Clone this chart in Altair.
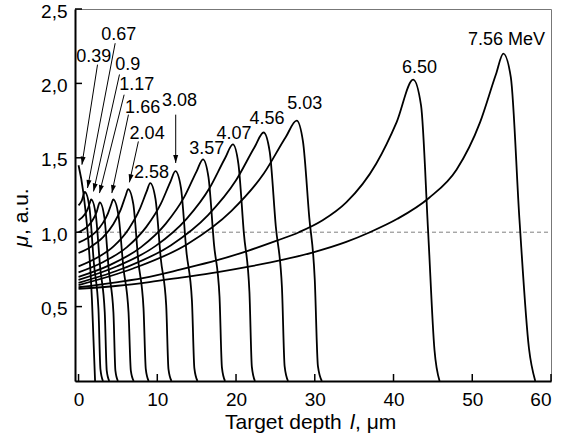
import altair as alt
import pandas as pd

FONT = "Liberation Sans"

# ---- curve data (target depth in um, mu in a.u.) ----
energies = ["0.39", "0.67", "0.9", "1.17", "1.66", "2.04", "2.58", "3.08",
            "3.57", "4.07", "4.56", "5.03", "6.50", "7.56"]

x_039 = [0, 0.6, 1.7, 2.1]
y_039 = [1.45, 1.27, 0.55, 0]
x_067 = [0, 0.4, 0.8, 1.375, 1.95, 2.53, 2.78, 3.1]
y_067 = [1.18, 1.21, 1.27, 1.17, 0.79, 0.48, 0.08, 0]
x_090 = [0, 0.8, 1.2, 1.45, 1.6, 2.18, 2.75, 3.33, 3.58, 3.9]
y_090 = [1.08, 1.12, 1.16, 1.2, 1.22, 1.12, 0.76, 0.46, 0.07, 0]
x_117 = [0, 1.35, 1.89, 2.3, 2.7, 3.28, 3.85, 4.43, 4.68, 5.0]
y_117 = [1.0, 1.05, 1.09, 1.136, 1.2, 1.1, 0.74, 0.46, 0.07, 0]
x_166 = [0, 1.1, 2.2, 3.08, 3.74, 4.18, 4.4, 5.05, 5.7, 6.35, 6.64, 7.0]
y_166 = [0.93, 0.959, 1.003, 1.061, 1.127, 1.191, 1.22, 1.12, 0.76, 0.46, 0.07, 0]
x_204 = [0, 1.58, 3.15, 4.41, 5.36, 5.99, 6.3, 6.95, 7.6, 8.25, 8.54, 8.9]
y_204 = [0.86, 0.903, 0.968, 1.054, 1.152, 1.247, 1.29, 1.19, 0.8, 0.49, 0.08, 0]
x_258 = [0, 2.28, 4.55, 6.37, 7.74, 8.65, 9.1, 9.78, 10.45, 11.13, 11.42, 11.8]
y_258 = [0.77, 0.826, 0.91, 1.022, 1.151, 1.274, 1.33, 1.22, 0.82, 0.51, 0.08, 0]
x_308 = [0, 3.08, 6.15, 8.61, 10.46, 11.69, 12.3, 13.0, 13.7, 14.4, 14.71, 15.1]
y_308 = [0.73, 0.798, 0.90, 1.036, 1.192, 1.342, 1.41, 1.3, 0.87, 0.54, 0.085, 0]
x_357 = [0, 3.95, 7.9, 11.06, 13.43, 15.01, 15.8, 16.5, 17.2, 17.9, 18.21, 18.6]
y_357 = [0.70, 0.779, 0.898, 1.056, 1.237, 1.411, 1.49, 1.37, 0.92, 0.57, 0.09, 0]
x_407 = [0, 4.9, 9.8, 13.72, 16.66, 18.62, 19.6, 20.3, 21.0, 21.7, 22.01, 22.4]
y_407 = [0.68, 0.771, 0.908, 1.09, 1.299, 1.499, 1.59, 1.46, 0.99, 0.6, 0.095, 0]
x_456 = [0, 5.88, 11.75, 16.45, 19.98, 22.33, 23.5, 24.28, 25.05, 25.83, 26.17, 26.6]
y_456 = [0.66, 0.761, 0.913, 1.115, 1.347, 1.569, 1.67, 1.54, 1.04, 0.63, 0.1, 0]
x_503 = [0, 6.93, 13.85, 19.39, 23.55, 26.32, 27.7, 28.5, 29.3, 30.0, 30.4, 30.9]
y_503 = [0.645, 0.756, 0.921, 1.142, 1.396, 1.64, 1.75, 1.61, 1.1, 0.68, 0.1, 0]
x_650 = [0, 5, 9, 13, 17.5, 21.5, 25, 28, 31, 34, 37.8, 40.4, 42.5, 43.5, 44.4, 45.2, 45.85]
y_650 = [0.63, 0.665, 0.70, 0.75, 0.81, 0.875, 0.94, 1.0, 1.08, 1.2, 1.46, 1.74, 2.025, 1.85, 1.0, 0.21, 0]
x_756 = [0, 5, 9, 13, 17.5, 21.8, 26, 29.8, 34, 37, 40.5, 44.5, 48, 51, 53, 53.95, 54.9, 56, 57.2, 58]
y_756 = [0.62, 0.64, 0.665, 0.695, 0.73, 0.77, 0.815, 0.865, 0.935, 1.0, 1.09, 1.23, 1.42, 1.74, 2.06, 2.2, 2.04, 1.08, 0.22, 0]

curve_xs = [x_039, x_067, x_090, x_117, x_166, x_204, x_258, x_308, x_357, x_407, x_456, x_503, x_650, x_756]
curve_ys = [y_039, y_067, y_090, y_117, y_166, y_204, y_258, y_308, y_357, y_407, y_456, y_503, y_650, y_756]

# ---- labels ----
label_text = ["0.39", "0.67", "0.9", "1.17", "1.66", "2.04", "2.58", "3.08",
              "3.57", "4.07", "4.56", "5.03", "6.50", "7.56 MeV"]
label_x = [1.93, 5.1, 6.24, 7.38, 8.14, 8.71, 9.28, 12.83, 16.27, 19.73, 23.92, 28.73, 43.3, 54.34]
label_y = [2.18, 2.327, 2.126, 1.99, 1.837, 1.662, 1.397, 1.884, 1.561, 1.662, 1.763, 1.864, 2.106, 2.294]

# ---- arrows (start -> tip) ----
arrow_x1 = [2.41, 4.65, 5.2, 5.79, 6.34, 7.6, 12.34]
arrow_y1 = [2.126, 2.27, 2.06, 1.924, 1.79, 1.61, 1.79]
arrow_x2 = [0.43, 1.14, 1.9, 2.66, 4.23, 6.46, 12.34]
arrow_y2 = [1.454, 1.297, 1.274, 1.263, 1.263, 1.335, 1.465]
arrow_ang = [8.9, 10.8, 12.6, 14.1, 12.0, 12.4, 0.0]

x_ticks = [0, 10, 20, 30, 40, 50, 60]
y_ticks = [0.5, 1.0, 1.5, 2.0, 2.5]

W, H = 476, 372

rows = []
for e, xs, ys in zip(energies, curve_xs, curve_ys):
    for i, (a, b) in enumerate(zip(xs, ys)):
        rows.append({"E": e, "x": a, "y": b, "o": i})
curves_df = pd.DataFrame(rows)

xscale = alt.Scale(domain=[-0.45, 60], nice=False, zero=False)
yscale = alt.Scale(domain=[0, 2.5], nice=False, zero=False)

xaxis = alt.Axis(values=x_ticks, format="d", tickSize=0, ticks=False, grid=False, title=None,
                 labelFont=FONT, labelFontSize=19, labelColor="black", labelPadding=9,
                 domainColor="black", domainWidth=2)
yaxis = alt.Axis(values=y_ticks, labelExpr="replace(format(datum.value, '.1f'), '.', ',')",
                 tickSize=0, ticks=False, grid=False, title=None,
                 labelFont=FONT, labelFontSize=19, labelColor="black", labelPadding=8,
                 labelOffset=2, domainColor="black", domainWidth=2)


def X(f):
    return alt.X(f, scale=xscale, axis=xaxis)


def Y(f):
    return alt.Y(f, scale=yscale, axis=yaxis)


lines = alt.Chart(curves_df).mark_line(color="black", strokeWidth=1.8, interpolate="monotone").encode(
    x=X("x:Q"), y=Y("y:Q"), detail="E:N", order="o:Q",
)

dash = alt.Chart(pd.DataFrame({"y": [1.0]})).mark_rule(
    color="#808080", strokeWidth=1, strokeDash=[4, 3]
).encode(y=Y("y:Q"), x=alt.value(0), x2=alt.value(W))

xt = alt.Chart(pd.DataFrame({"v": x_ticks})).mark_rule(color="black", strokeWidth=1.5).encode(
    x=X("v:Q"), y=alt.value(H), y2=alt.value(H - 7))
yt = alt.Chart(pd.DataFrame({"v": y_ticks})).mark_rule(color="black", strokeWidth=1.5).encode(
    y=Y("v:Q"), x=alt.value(0), x2=alt.value(7))

arr_df = pd.DataFrame({"x1": arrow_x1, "y1": arrow_y1, "x2": arrow_x2, "y2": arrow_y2, "a": arrow_ang})
arr_lines = alt.Chart(arr_df).mark_rule(color="black", strokeWidth=1).encode(
    x=X("x1:Q"), y=Y("y1:Q"), x2="x2:Q", y2="y2:Q")
arr_heads = alt.Chart(arr_df).mark_point(
    shape="M0,0L-1,-3.2L1,-3.2Z", filled=True, size=25, color="black", opacity=1
).encode(x=X("x2:Q"), y=Y("y2:Q"), angle=alt.Angle("a:Q", scale=None))

lab_df = pd.DataFrame({"x": label_x, "y": label_y, "t": label_text})
labels = alt.Chart(lab_df).mark_text(font=FONT, fontSize=18, color="black",
                                     align="center", baseline="middle").encode(
    x=X("x:Q"), y=Y("y:Q"), text="t:N")

# axis titles (with italic symbols)
tdf = pd.DataFrame({"d": [0]})
xt1 = alt.Chart(tdf).mark_text(text="Target depth ", font=FONT, fontSize=21, align="left",
                               baseline="alphabetic", color="black").encode(
    x=alt.value(150), y=alt.value(420))
xt2 = alt.Chart(tdf).mark_text(text="l", font=FONT, fontSize=21, fontStyle="italic", align="left",
                               baseline="alphabetic", color="black").encode(
    x=alt.value(275), y=alt.value(420))
xt3 = alt.Chart(tdf).mark_text(text=", μm", font=FONT, fontSize=21, align="left",
                               baseline="alphabetic", color="black").encode(
    x=alt.value(280), y=alt.value(420))
yt1 = alt.Chart(tdf).mark_text(text="μ", font=FONT, fontSize=21, fontStyle="italic", align="left",
                               baseline="middle", angle=270, color="black").encode(
    x=alt.value(-53), y=alt.value(238))
yt2 = alt.Chart(tdf).mark_text(text=", a.u.", font=FONT, fontSize=21, align="left",
                               baseline="middle", angle=270, color="black").encode(
    x=alt.value(-53), y=alt.value(226))

chart = alt.layer(dash, lines, xt, yt, arr_lines, arr_heads, labels, xt1, xt2, xt3, yt1, yt2).properties(
    width=W, height=H,
    padding={"left": 75, "top": 9, "right": 23, "bottom": 60},
    autosize=alt.AutoSizeParams(type="none"),
    background="white",
).configure_view(stroke="#777777", strokeWidth=1)

chart.save("out.html", embed_options={"renderer": "svg", "actions": False})
